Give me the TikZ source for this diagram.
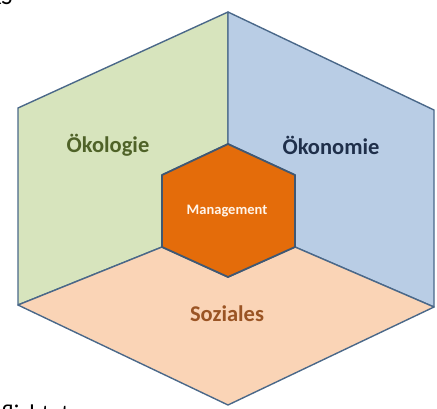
\documentclass[tikz,border=0pt]{standalone}
\usepackage{fontspec}
\setmainfont{Carlito}
\definecolor{oekogreen}{HTML}{D7E4BD}
\definecolor{oekoblue}{HTML}{B9CDE5}
\definecolor{sozpeach}{HTML}{FAD4B6}
\definecolor{mgmtorange}{HTML}{E46C0A}
\definecolor{edgeblue}{HTML}{4A6889}
\definecolor{greentext}{HTML}{4F6228}
\definecolor{bluetext}{HTML}{1F2F4A}
\definecolor{browntext}{HTML}{9A5424}
\begin{document}
\begin{tikzpicture}[x=1pt, y=-1pt, line join=round,
    face/.style = {draw=edgeblue, line width=1.4pt},
    label/.style = {font=\fontsize{22.5}{26}\selectfont\bfseries}]
    \clip (0,0) rectangle (437,408);
    \useasboundingbox (0,0) rectangle (437,408);
    % outer corners
    \coordinate (T)  at (228,12);
    \coordinate (UL) at (18,108);
    \coordinate (LL) at (18,305);
    \coordinate (B)  at (228,405);
    \coordinate (LR) at (434,307);
    \coordinate (UR) at (434,110);
    % inner corners
    \coordinate (iT)  at (228,144);
    \coordinate (iUL) at (162,175);
    \coordinate (iLL) at (162,247);
    \coordinate (iB)  at (228,277);
    \coordinate (iLR) at (295,247);
    \coordinate (iUR) at (295,175);

    \filldraw[face, fill=oekogreen] (T) -- (UL) -- (LL) -- (iLL) -- (iUL) -- (iT) -- cycle;
    \filldraw[face, fill=oekoblue] (T) -- (iT) -- (iUR) -- (iLR) -- (LR) -- (UR) -- cycle;
    \filldraw[face, fill=sozpeach] (LL) -- (B) -- (LR) -- (iLR) -- (iB) -- (iLL) -- cycle;
    \filldraw[face, fill=mgmtorange, line width=1.8pt, draw=edgeblue!85!black]
        (iT) -- (iUL) -- (iLL) -- (iB) -- (iLR) -- (iUR) -- cycle;

    \node[label, text=greentext] (oeko) at (108,145) {Ökologie};
    \node[label, text=bluetext] (oekon) at (331,145) {Ökonomie};
    \node[label, text=browntext] (soz) at (227,314) {Soziales};
    \node[font=\fontsize{14.5}{17}\selectfont\bfseries, text=white!92!orange] (mgmt) at (227,211) {Management};

    % cut-off page text
    \node[font=\fontsize{24}{28}\selectfont, anchor=base east] (top) at (16,4) {KS};
    \node[font=\fontsize{24}{28}\selectfont, anchor=base east] (bot) at (73,421) {verpflichtet};
\end{tikzpicture}
\end{document}
